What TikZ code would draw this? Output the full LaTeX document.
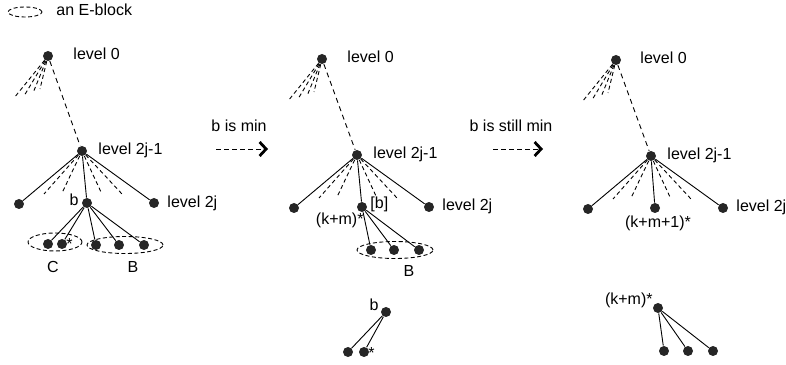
\documentclass[tikz,border=0pt]{standalone}
\usepackage{fontspec}
\setmainfont{Liberation Sans}
\usetikzlibrary{arrows,arrows.meta}

\begin{document}
\begin{tikzpicture}[>=latex',line join=bevel,
  dot/.style={circle,fill=black!85,inner sep=0pt,minimum size=10bp},
  lbl/.style={inner sep=0pt,text height=11.5bp,text depth=3.5bp,font=\fontsize{16bp}{19bp}\selectfont},
  stub/.style={dash pattern=on 4bp off 3bp},
  longdash/.style={dash pattern=on 5bp off 4bp},
  eblock/.style={dash pattern=on 4bp off 2.5bp},
  move/.style={dash pattern=on 5bp off 3bp,-{Straight Barb[length=6.5bp,width=14bp,line width=2.8bp]}}]
\pgfsetlinewidth{0.9bp}
\useasboundingbox (0bp,0bp) rectangle (786bp,365bp);
% legend
\draw[eblock] (25bp,353bp) ellipse (17bp and 5bp);
\node[lbl,anchor=west] (leg) at (56bp,353bp) {an E-block};

% tree 1
\node[dot] (r1) at (48bp,309bp) {};
\node[dot] (m1) at (82bp,214bp) {};
\node[dot] (a1) at (19bp,161bp) {};
\node[dot] (b1) at (87bp,162bp) {};
\node[dot] (c1) at (154bp,162bp) {};
\node[dot] (c1a) at (48bp,121bp) {};
\node[dot] (c1b) at (62bp,121bp) {};
\node[dot] (b1a) at (96bp,120bp) {};
\node[dot] (b1b) at (119bp,120bp) {};
\node[dot] (b1c) at (144bp,120bp) {};
\node[lbl,anchor=west] (r1l) at (73bp,309bp) {level 0};
\node[lbl,anchor=west] (m1l) at (98bp,214bp) {level 2j-1};
\node[lbl,anchor=west] (c1l) at (167bp,161bp) {level 2j};
\node[lbl,anchor=east] (b1l) at (79bp,163bp) {b};
\node[lbl,anchor=west] (c1s) at (66bp,119bp) {*};
\draw[eblock] (55bp,123bp) ellipse (27bp and 9bp);
\draw[eblock] (125bp,120bp) ellipse (38bp and 8.5bp);
\node[lbl] (cl) at (53bp,96bp) {C};
\node[lbl] (bl) at (133bp,96bp) {B};
\foreach \n in {c1a,c1b,b1a,b1b,b1c} \draw (b1) -- (\n);

% first move
\coordinate (mv1s) at (216bp,216bp);
\coordinate (mv1e) at (268bp,216bp);
\draw[move] (mv1s) -- (mv1e);
\node[lbl] (mv1l) at (239bp,237bp) {b is min};

% tree 2
\node[dot] (r2) at (322bp,306bp) {};
\node[dot] (m2) at (357bp,210bp) {};
\node[dot] (a2) at (294bp,157bp) {};
\node[dot] (b2) at (362bp,158bp) {};
\node[dot] (c2) at (429bp,158bp) {};
\node[dot] (b2a) at (371bp,115bp) {};
\node[dot] (b2b) at (394bp,115bp) {};
\node[dot] (b2c) at (419bp,115bp) {};
\node[lbl,anchor=west] (r2l) at (347bp,306bp) {level 0};
\node[lbl,anchor=west] (m2l) at (373bp,210bp) {level 2j-1};
\node[lbl,anchor=west] (c2l) at (442bp,158bp) {level 2j};
\node[lbl,anchor=west] (b2l) at (370bp,160bp) {[b]};
\node[lbl,anchor=east] (b2k) at (364bp,144bp) {(k+m)*};
\draw[eblock] (395bp,115bp) ellipse (38bp and 8.5bp);
\node[lbl] (bl2) at (409bp,92bp) {B};
\foreach \n in {b2a,b2b,b2c} \draw (b2) -- (\n);
% cut off subtree
\node[dot] (d2) at (386bp,53bp) {};
\node[dot] (d2a) at (348bp,13bp) {};
\node[dot] (d2b) at (364bp,13bp) {};
\node[lbl,anchor=east] (d2l) at (379bp,58bp) {b};
\node[lbl,anchor=west] (d2s) at (368bp,11bp) {*};
\draw (d2) -- (d2a);
\draw (d2) -- (d2b);

% second move
\coordinate (mv2s) at (493bp,216bp);
\coordinate (mv2e) at (543bp,216bp);
\draw[move] (mv2s) -- (mv2e);
\node[lbl] (mv2l) at (511bp,237bp) {b is still min};

% tree 3
\node[dot] (r3) at (616bp,305bp) {};
\node[dot] (m3) at (651bp,209bp) {};
\node[dot] (a3) at (588bp,156bp) {};
\node[dot] (b3) at (655bp,157bp) {};
\node[dot] (c3) at (723bp,157bp) {};
\node[lbl,anchor=west] (r3l) at (640bp,305bp) {level 0};
\node[lbl,anchor=west] (m3l) at (667bp,209bp) {level 2j-1};
\node[lbl,anchor=west] (c3l) at (736bp,157bp) {level 2j};
\node[lbl] (b3k) at (658bp,141bp) {(k+m+1)*};
% cut off subtree
\node[dot] (d3) at (658bp,57bp) {};
\node[dot] (d3a) at (664bp,14bp) {};
\node[dot] (d3b) at (688bp,14bp) {};
\node[dot] (d3c) at (713bp,14bp) {};
\node[lbl,anchor=east] (d3l) at (653bp,64bp) {(k+m)*};
\foreach \n in {d3a,d3b,d3c} \draw (d3) -- (\n);

% upper part, the same in all three trees
\foreach \t in {1,2,3}{
  \foreach \dx/\dy [count=\i] in {-34/-42,-24/-40,-15/-37,-8/-33}
    \draw[stub] (r\t) -- ++(\dx bp,\dy bp) coordinate (r\t-s\i);
  \foreach \dx/\dy [count=\i] in {-38/-43,-20/-42,19/-41,40/-43}
    \draw[stub] (m\t) -- ++(\dx bp,\dy bp) coordinate (m\t-s\i);
  \draw[longdash] (r\t) -- (m\t);
  \draw (m\t) -- (a\t);
  \draw (m\t) -- (b\t);
  \draw (m\t) -- (c\t);
}
\end{tikzpicture}
\end{document}
